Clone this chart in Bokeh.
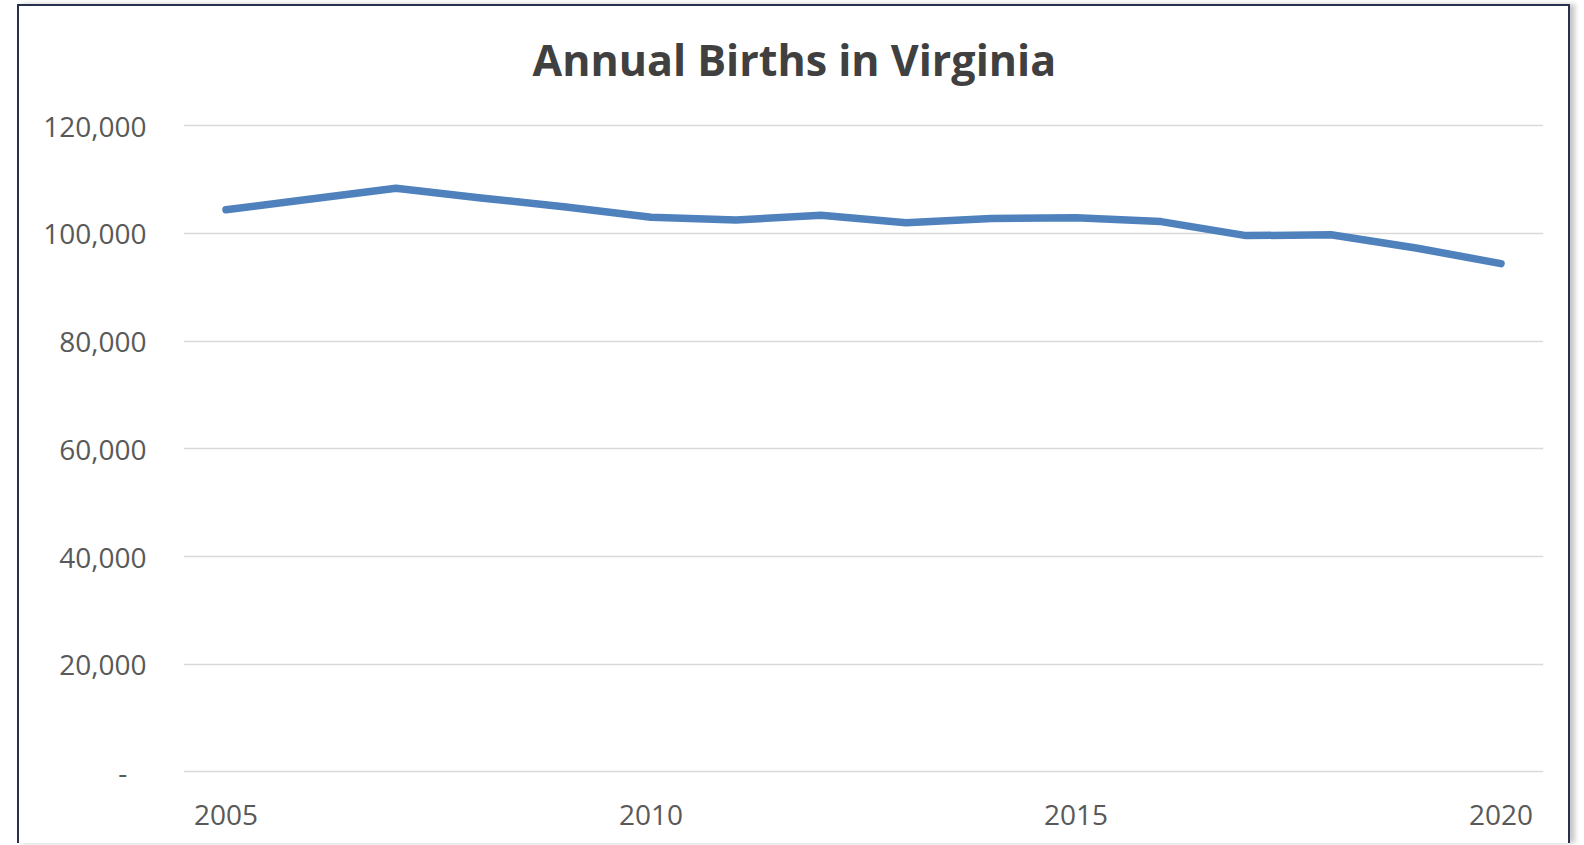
from bokeh.plotting import figure
from bokeh.models import FixedTicker, NumeralTickFormatter, Range1d
from bokeh.embed import file_html
from bokeh.resources import INLINE

years = [2005, 2006, 2007, 2008, 2009, 2010, 2011, 2012, 2013, 2014, 2015, 2016, 2017, 2018, 2019, 2020]
births = [104400, 106400, 108400, 106600, 104900, 103000, 102500, 103400, 102000, 102800, 102900, 102200, 99600, 99750, 97300, 94400]
y_ticks = [0, 20000, 40000, 60000, 80000, 100000, 120000]
x_ticks = [2005, 2010, 2015, 2020]
title_text = "Annual Births in Virginia"

p = figure(width=1553, height=839, output_backend="svg", toolbar_location=None,
           x_range=Range1d(2004.5, 2020.5), y_range=Range1d(-300, 123580),
           min_border_left=164, min_border_right=29, min_border_top=100, min_border_bottom=72,
           title=title_text)
p.styles = {"border-top": "2px solid #29304d", "border-left": "2px solid #29304d",
            "border-right": "2px solid #29304d", "margin-left": "17px", "margin-top": "4px",
            "box-shadow": "5px 0 5px rgba(0,0,0,0.22)"}

p.title.text_font = "Open Sans"
p.title.text_font_size = "43px"
p.title.text_font_style = "bold"
p.title.text_color = "#404040"
p.title.align = "left"
p.title.offset = 349
p.title.standoff = 36

p.outline_line_color = None
p.background_fill_color = "white"
p.border_fill_color = "white"

p.xgrid.grid_line_color = None
p.ygrid.grid_line_color = "#d9d9d9"
p.ygrid.grid_line_width = 1.5
p.ygrid.ticker = FixedTicker(ticks=y_ticks)

p.yaxis.ticker = FixedTicker(ticks=y_ticks)
p.yaxis.formatter = NumeralTickFormatter(format="0,0")
p.yaxis.major_label_overrides = {0: "-\u00a0\u00a0\u2009"}
p.xaxis.ticker = FixedTicker(ticks=x_ticks)
p.xaxis.major_label_overrides = {t: str(t) for t in x_ticks}

for ax in (p.xaxis[0], p.yaxis[0]):
    ax.axis_line_color = None
    ax.major_tick_line_color = None
    ax.minor_tick_line_color = None
    ax.major_tick_out = 0
    ax.major_tick_in = 0
    ax.major_label_text_font = "Open Sans"
    ax.major_label_text_font_size = "28px"
    ax.major_label_text_color = "#595959"
p.yaxis.major_label_standoff = 37
p.xaxis.major_label_standoff = 31

p.line(years, births, line_color="#4f81bd", line_width=7.5, line_cap="round", line_join="round")

open("out.html", "w").write(file_html(p, INLINE))
